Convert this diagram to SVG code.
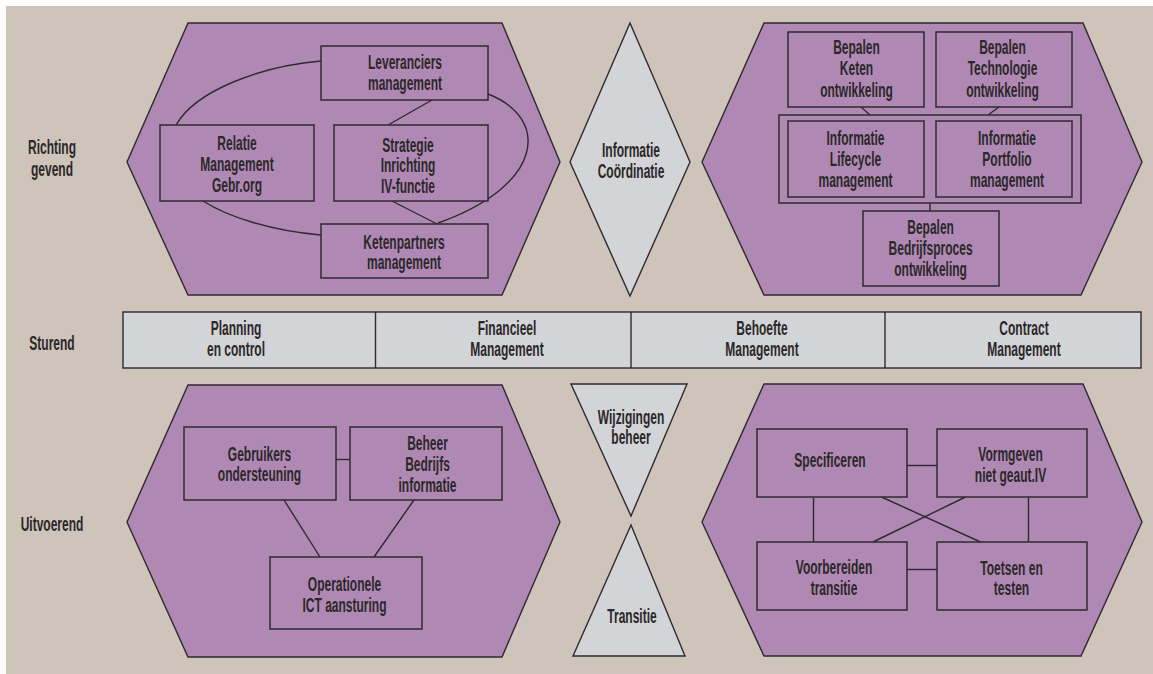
<svg xmlns="http://www.w3.org/2000/svg" width="1153" height="674" viewBox="0 0 1153 674">
<style>
.hex{fill:#b088b4;stroke:#2e2a2f;stroke-width:1.4}
.box{fill:#b088b4;stroke:#2e2a2f;stroke-width:1.5}
.gray{fill:#d3d4d7;stroke:#2e2a2f;stroke-width:1.4}
.ln{fill:none;stroke:#2e2a2f;stroke-width:1.4}
.t{font-family:"Liberation Sans",Arial,sans-serif;font-weight:bold;font-size:20px;fill:#2b2829;text-anchor:middle}
</style>
<rect x="6" y="6" width="1147" height="668" fill="#cec4b9"/>

<g id="labels">
<text class="t" transform="translate(52,154) scale(0.6,1)"><tspan x="0" y="0">Richting</tspan><tspan x="0" y="22">gevend</tspan></text>
<text class="t" transform="translate(52,350) scale(0.6,1)">Sturend</text>
<text class="t" transform="translate(52,531) scale(0.6,1)">Uitvoerend</text>
</g>

<g id="hex-top-left"><polygon class="hex" points="188,23 502,23 560,162 502,295 188,295 127,162"/></g>
<g id="hex-top-right"><polygon class="hex" points="764,23 1083,23 1142,162 1081,295 764,295 702,162"/></g>
<g id="hex-bottom-left"><polygon class="hex" points="188,385 502,385 560,522 502,657 188,657 127,522"/></g>
<g id="hex-bottom-right"><polygon class="hex" points="764,384 1083,384 1142,522 1081,656 764,656 702,522"/></g>

<g id="informatie-coordinatie">
<polygon class="gray" points="630,23 690,162 630,296 570,162"/>
<text class="t" transform="translate(631,156.5) scale(0.6,1)"><tspan x="0" y="0">Informatie</tspan><tspan x="0" y="21.5">Coördinatie</tspan></text>
</g>
<g id="wijzigingen-beheer">
<polygon class="gray" points="571,384 687,384 631,516"/>
<text class="t" transform="translate(631,424) scale(0.6,1)"><tspan x="0" y="0">Wijzigingen</tspan><tspan x="0" y="20.5">beheer</tspan></text>
</g>
<g id="transitie">
<polygon class="gray" points="631,525 685,656 573,656"/>
<text class="t" transform="translate(632,622.5) scale(0.6,1)">Transitie</text>
</g>

<g id="connectors">
<path class="ln" d="M321,61 C262,66 196,90 176,125"/>
<path class="ln" d="M203,201 C228,217 272,231 321,235"/>
<path class="ln" d="M488,94 C550,118 545,185 438,223"/>
<line class="ln" x1="432" y1="100" x2="388" y2="125"/>
<line class="ln" x1="392" y1="201" x2="437" y2="224"/>
<line class="ln" x1="861" y1="107" x2="870" y2="115"/>
<line class="ln" x1="999" y1="107" x2="988" y2="115"/>
<line class="ln" x1="930" y1="203" x2="930" y2="211"/>
<line class="ln" x1="336" y1="459.5" x2="350" y2="459.5"/>
<line class="ln" x1="284" y1="500" x2="320" y2="557"/>
<line class="ln" x1="414" y1="500" x2="374" y2="557"/>
<line class="ln" x1="907" y1="465.5" x2="937" y2="465.5"/>
<line class="ln" x1="907" y1="569.5" x2="937" y2="569.5"/>
<line class="ln" x1="813.5" y1="497" x2="813.5" y2="542"/>
<line class="ln" x1="1028.5" y1="497" x2="1028.5" y2="542"/>
<line class="ln" x1="881.5" y1="497" x2="980.5" y2="542"/>
<line class="ln" x1="965.5" y1="497" x2="873" y2="542"/>
</g>

<g id="leveranciers"><rect class="box" x="321" y="46" width="167" height="54"/>
<text class="t" transform="translate(405,69) scale(0.6,1)"><tspan x="0" y="0">Leveranciers</tspan><tspan x="0" y="21">management</tspan></text></g>
<g id="relatie"><rect class="box" x="160" y="125" width="154" height="76"/>
<text class="t" transform="translate(237,150) scale(0.6,1)"><tspan x="0" y="0">Relatie</tspan><tspan x="0" y="21.5">Management</tspan><tspan x="0" y="42.5">Gebr.org</tspan></text></g>
<g id="strategie"><rect class="box" x="334" y="125" width="154" height="76"/>
<text class="t" transform="translate(408,151.5) scale(0.6,1)"><tspan x="0" y="0">Strategie</tspan><tspan x="0" y="21">Inrichting</tspan><tspan x="0" y="42">IV-functie</tspan></text></g>
<g id="ketenpartners"><rect class="box" x="321" y="224" width="167" height="54"/>
<text class="t" transform="translate(404,248.5) scale(0.6,1)"><tspan x="0" y="0">Ketenpartners</tspan><tspan x="0" y="21">management</tspan></text></g>

<g id="bepalen-keten"><rect class="box" x="788" y="32" width="136" height="75"/>
<text class="t" transform="translate(856.5,54.3) scale(0.6,1)"><tspan x="0" y="0">Bepalen</tspan><tspan x="0" y="21.2">Keten</tspan><tspan x="0" y="42.4">ontwikkeling</tspan></text></g>
<g id="bepalen-technologie"><rect class="box" x="936" y="32" width="136" height="75"/>
<text class="t" transform="translate(1002.5,54.3) scale(0.6,1)"><tspan x="0" y="0">Bepalen</tspan><tspan x="0" y="21.2">Technologie</tspan><tspan x="0" y="42.4">ontwikkeling</tspan></text></g>
<g id="informatie-container"><rect class="box" x="779" y="115" width="302" height="88"/></g>
<g id="informatie-lifecycle"><rect class="box" x="788" y="121" width="136" height="76"/>
<text class="t" transform="translate(855.5,145) scale(0.6,1)"><tspan x="0" y="0">Informatie</tspan><tspan x="0" y="21">Lifecycle</tspan><tspan x="0" y="42">management</tspan></text></g>
<g id="informatie-portfolio"><rect class="box" x="936" y="121" width="136" height="76"/>
<text class="t" transform="translate(1007,145) scale(0.6,1)"><tspan x="0" y="0">Informatie</tspan><tspan x="0" y="21">Portfolio</tspan><tspan x="0" y="42">management</tspan></text></g>
<g id="bepalen-bedrijfsproces"><rect class="box" x="863" y="211" width="136" height="75"/>
<text class="t" transform="translate(930.6,234.3) scale(0.6,1)"><tspan x="0" y="0">Bepalen</tspan><tspan x="0" y="20.8">Bedrijfsproces</tspan><tspan x="0" y="41.6">ontwikkeling</tspan></text></g>

<g id="sturend-band">
<rect class="gray" x="123" y="312" width="1018" height="56"/>
<line class="ln" x1="375.5" y1="312" x2="375.5" y2="368"/>
<line class="ln" x1="631" y1="312" x2="631" y2="368"/>
<line class="ln" x1="885" y1="312" x2="885" y2="368"/>
<text class="t" transform="translate(236,335) scale(0.6,1)"><tspan x="0" y="0">Planning</tspan><tspan x="0" y="21.5">en control</tspan></text>
<text class="t" transform="translate(507,335) scale(0.6,1)"><tspan x="0" y="0">Financieel</tspan><tspan x="0" y="21.5">Management</tspan></text>
<text class="t" transform="translate(762,335) scale(0.6,1)"><tspan x="0" y="0">Behoefte</tspan><tspan x="0" y="21.5">Management</tspan></text>
<text class="t" transform="translate(1024,335) scale(0.6,1)"><tspan x="0" y="0">Contract</tspan><tspan x="0" y="21.5">Management</tspan></text>
</g>

<g id="gebruikers"><rect class="box" x="184" y="427" width="152" height="73"/>
<text class="t" transform="translate(259.5,461) scale(0.6,1)"><tspan x="0" y="0">Gebruikers</tspan><tspan x="0" y="20.5">ondersteuning</tspan></text></g>
<g id="beheer"><rect class="box" x="350" y="427" width="152" height="73"/>
<text class="t" transform="translate(427.5,450) scale(0.6,1)"><tspan x="0" y="0">Beheer</tspan><tspan x="0" y="21">Bedrijfs</tspan><tspan x="0" y="42">informatie</tspan></text></g>
<g id="operationele"><rect class="box" x="270" y="557" width="152" height="72"/>
<text class="t" transform="translate(344.5,591) scale(0.6,1)"><tspan x="0" y="0">Operationele</tspan><tspan x="0" y="21">ICT aansturing</tspan></text></g>

<g id="specificeren"><rect class="box" x="757" y="429" width="150" height="68"/>
<text class="t" transform="translate(830,467) scale(0.6,1)">Specificeren</text></g>
<g id="vormgeven"><rect class="box" x="937" y="429" width="150" height="68"/>
<text class="t" transform="translate(1010.5,460.7) scale(0.6,1)"><tspan x="0" y="0">Vormgeven</tspan><tspan x="0" y="21.3">niet geaut.IV</tspan></text></g>
<g id="voorbereiden"><rect class="box" x="757" y="542" width="150" height="68"/>
<text class="t" transform="translate(834,574.3) scale(0.6,1)"><tspan x="0" y="0">Voorbereiden</tspan><tspan x="0" y="21">transitie</tspan></text></g>
<g id="toetsen"><rect class="box" x="937" y="542" width="150" height="68"/>
<text class="t" transform="translate(1011.5,575) scale(0.6,1)"><tspan x="0" y="0">Toetsen en</tspan><tspan x="0" y="20.5">testen</tspan></text></g>
</svg>
